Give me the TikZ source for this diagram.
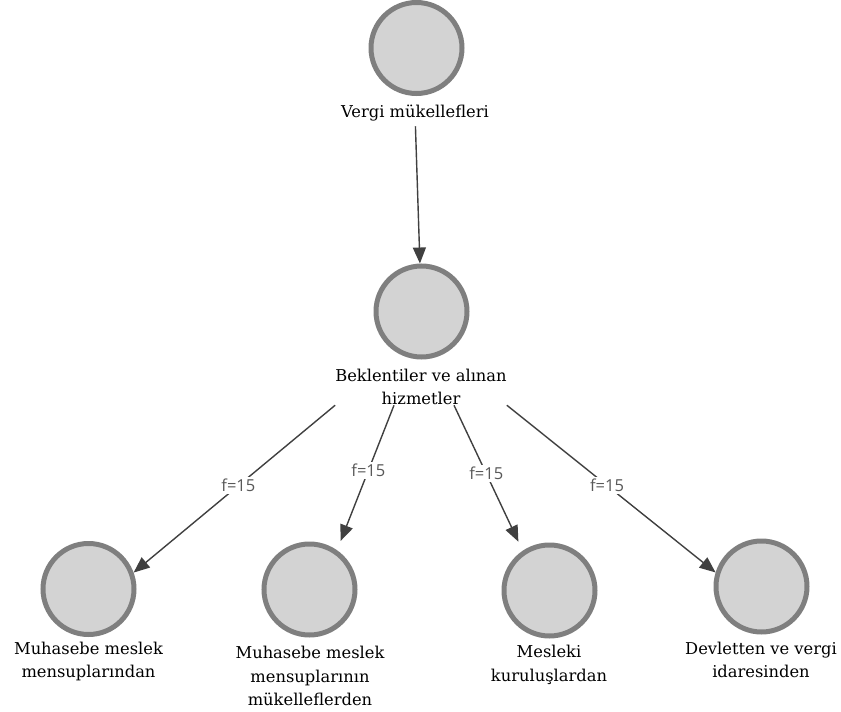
\documentclass[tikz,border=0pt]{standalone}
\usepackage{fontspec}
\usepackage{tikz}
\usetikzlibrary{arrows.meta}
\usetikzlibrary{calc}
\newfontfamily\lblfont{DejaVu Serif}
\newfontfamily\frqfont{Open Sans}
\definecolor{rim}{HTML}{7F7F7F}
\definecolor{disc}{HTML}{D3D3D3}
\definecolor{ink}{HTML}{404040}

\begin{document}
\begin{tikzpicture}[x=1pt,y=-1pt,
        ball/.style={circle,draw=rim,fill=disc,line width=5pt,minimum size=91pt,inner sep=0pt},
        lbl/.style={align=center,text=black,font=\lblfont\fontsize{16.3}{23.5}\selectfont,inner sep=0pt},
        arr/.style={draw=ink,line width=1.4pt,-{Triangle[length=16pt,width=13pt]}},
        frq/.style={fill=white,text=black!65,font=\frqfont\fontsize{16.5}{18}\selectfont,inner sep=2pt}]
            \useasboundingbox (0,0) rectangle (841,712);
            % circles
            \node[ball] (top) at (416.5,48) {};
            \node[ball] (mid) at (421.5,311.5) {};
            \node[ball] (c1) at (88.5,589) {};
            \node[ball] (c2) at (309.5,589.5) {};
            \node[ball] (c3) at (549.5,590.5) {};
            \node[ball] (c4) at (761.5,586.5) {};
            % labels
            \node[lbl] (tlab) at (415,113) {Vergi mükellefleri};
            \node[lbl] (mlab) at (421,387) {Beklentiler ve alınan\\hizmetler};
            \node[lbl] (l1) at (88.5,661.5) {Muhasebe meslek\\mensuplarından};
            \node[lbl] (l2) at (310,676) {Muhasebe meslek\\mensuplarının\\mükelleflerden};
            \node[lbl] (l3) at (549,665) {Mesleki\\kuruluşlardan};
            \node[lbl] (l4) at (761,660) {Devletten ve vergi\\idaresinden};
            % arrows
            \draw[arr,shorten <=5pt] (tlab) -- (mid);
            \draw[arr] (mlab.south west) -- node[frq,pos=0.48] {f=15} (c1.20);
            \draw[arr,shorten >=10pt] ($(mlab.south)+(-27,0)$) -- node[frq,pos=0.45] {f=15} (c2.55);
            \draw[arr,shorten >=10pt] ($(mlab.south)+(33,0)$) -- node[frq,pos=0.47] {f=15} (c3.124);
            \draw[arr] (mlab.south east) -- node[frq,pos=0.48] {f=15} (c4.163);
        \end{tikzpicture}
\end{document}
